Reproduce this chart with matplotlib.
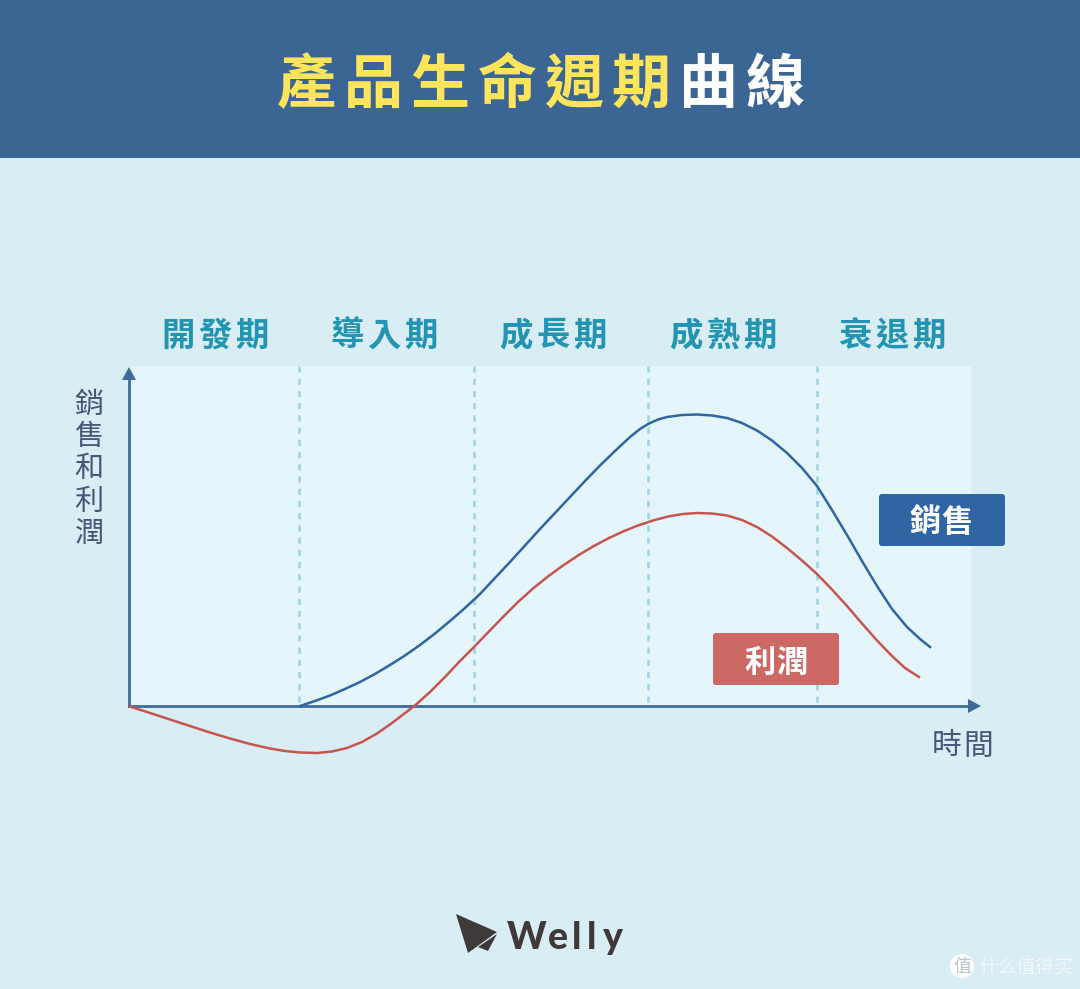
"""Product life cycle chart, drawn on a full-figure axes in pixel units."""

import matplotlib.pyplot as plt
from matplotlib.patches import Circle, FancyBboxPatch, Polygon, Rectangle

plt.rcParams["font.family"] = ["Noto Sans CJK TC", "DejaVu Sans"]

W, H = 1080, 989

title_yellow = ["產", "品", "生", "命", "週", "期"]
title_white = ["曲", "線"]
phases = ["開發期", "導入期", "成長期", "成熟期", "衰退期"]
phase_centers = [215, 384, 553, 723, 892]
phase_edges = [299, 474, 648, 817]
y_label = ["銷", "售", "和", "利", "潤"]

sales_x = [300, 315, 330, 345, 360, 375, 390, 405, 420, 435, 450, 465, 480, 495, 510,
           525, 540, 555, 570, 585, 600, 615, 630, 640, 649, 658, 667, 682, 697, 712,
           727, 742, 757, 772, 787, 802, 817, 832, 847, 862, 877, 892, 907, 920, 930]
sales_y = [706, 701, 695.5, 689, 682, 674, 665, 655.5, 645, 633.5, 621, 608, 594, 578, 562,
           545.5, 529, 513, 497, 481, 465.5, 451, 437, 429, 423.5, 419.5, 417, 415, 414.5, 415.5,
           418, 423, 430.5, 440.5, 453, 468, 486, 510, 535, 561, 586, 609, 627, 639, 647]

profit_x = [130, 150, 170, 190, 210, 230, 250, 270, 285, 300, 317, 332, 347, 362, 377, 392,
            407, 415, 430, 445, 460, 473, 488, 503, 518, 533, 548, 563, 578, 593, 608, 623,
            638, 653, 668, 683, 697, 712, 727, 742, 757, 772, 787, 802, 817, 832, 847, 862,
            877, 892, 905, 919]
profit_y = [706.5, 713, 719.5, 726, 732.5, 738.5, 744, 748.5, 751, 752.5, 753, 751.5, 748, 742, 733.5, 723,
            711.5, 705.5, 692, 677, 661, 648, 632.5, 617, 602, 588.5, 576.5, 565.5, 555.5, 546.5, 538.5, 531.5,
            525.5, 520.5, 516.5, 514, 513, 513.5, 515.5, 520, 527, 536.5, 548, 560.5, 574, 589.5, 606, 623.5,
            640.5, 656, 668, 677]

# logo paper plane
plane_big = [(456, 914), (497, 932), (468, 953)]
plane_small = [(497, 934), (478, 947), (488, 951)]

fig = plt.figure(figsize=(W / 100, H / 100), dpi=100, facecolor="#D8EDF4")
ax = fig.add_axes([0, 0, 1, 1])
ax.set_xlim(0, W)
ax.set_ylim(H, 0)
ax.axis("off")

# Header band and plot panel
ax.add_patch(Rectangle((0, 0), W, 158, color="#3B6694", lw=0))
ax.add_patch(Rectangle((130, 366), 841, 340, color="#E4F6FB", lw=0))

# Title, placed glyph by glyph because of the wide letter spacing
for i, ch in enumerate(title_yellow + title_white):
    color = "#FFE45C" if i < len(title_yellow) else "white"
    ax.text(306 + i * 67, 86, ch, color=color, fontsize=42.5, fontweight="bold",
            ha="center", va="center")

# Phase headings
for center, label in zip(phase_centers, phases):
    for i, ch in enumerate(label):
        ax.text(center + (i - 1) * 37, 336, ch, color="#2394B1", fontsize=24,
                fontweight="bold", ha="center", va="center")

for x in phase_edges:
    ax.plot([x, x], [366, 706], color="#A5D5E4", lw=2, ls=(0, (2.2, 2.2)), zorder=2)

# Axes arrows
ax.plot([129, 129], [376, 706], color="#3F6A99", lw=2, zorder=3)
ax.plot([129, 970], [706, 706], color="#3F6A99", lw=2, zorder=3)
ax.add_patch(Polygon([(129, 367), (122, 380), (136, 380)], color="#3F6A99", lw=0, zorder=3))
ax.add_patch(Polygon([(981, 706), (968, 699), (968, 713)], color="#3F6A99", lw=0, zorder=3))

# Curves
ax.plot(sales_x, sales_y, color="#2F65A3", lw=1.8, zorder=4, solid_joinstyle="round")
ax.plot(profit_x, profit_y, color="#C8544E", lw=1.8, zorder=4, solid_joinstyle="round")

# Axis captions
for i, ch in enumerate(y_label):
    ax.text(89, 405 + i * 32.2, ch, color="#45587A", fontsize=21, ha="center", va="center")
for x, ch in zip([947, 978], "時間"):
    ax.text(x, 746, ch, color="#45587A", fontsize=21.5, ha="center", va="center")

# Series tags
ax.add_patch(FancyBboxPatch((881, 496), 122, 48, boxstyle="round,pad=2,rounding_size=3",
                            fc="#2F65A3", ec="none", zorder=5))
for x, ch in zip([925, 957], "銷售"):
    ax.text(x, 523, ch, color="white", fontsize=22.5, fontweight="bold",
            ha="center", va="center", zorder=6)
ax.add_patch(FancyBboxPatch((715, 635), 122, 48, boxstyle="round,pad=2,rounding_size=3",
                            fc="#CC6964", ec="none", zorder=5))
for x, ch in zip([760, 792], "利潤"):
    ax.text(x, 663, ch, color="white", fontsize=22.5, fontweight="bold",
            ha="center", va="center", zorder=6)

# Logo
ax.add_patch(Polygon(plane_big, color="#3F3A39", lw=0))
ax.add_patch(Polygon(plane_small, color="#3F3A39", lw=0))
for x, ch in zip([527, 558, 577, 592, 613], "Welly"):
    ax.text(x, 938, ch, color="#3F3A39", fontsize=27, fontweight="black",
            family=["Lato", "DejaVu Sans"], ha="center", va="center")

# Watermark
ax.add_patch(Circle((962, 966), 12, color="white", lw=0))
ax.text(962, 967, "值", color="#B9C6CC", fontsize=13, ha="center", va="center",
        family=["Noto Sans CJK SC", "DejaVu Sans"])
ax.text(1026, 967, "什么值得买", color="#F4F8FA", fontsize=13.5, ha="center", va="center",
        family=["Noto Sans CJK SC", "DejaVu Sans"])

fig.savefig("out.png", dpi=100, facecolor=fig.get_facecolor())
plt.close(fig)
